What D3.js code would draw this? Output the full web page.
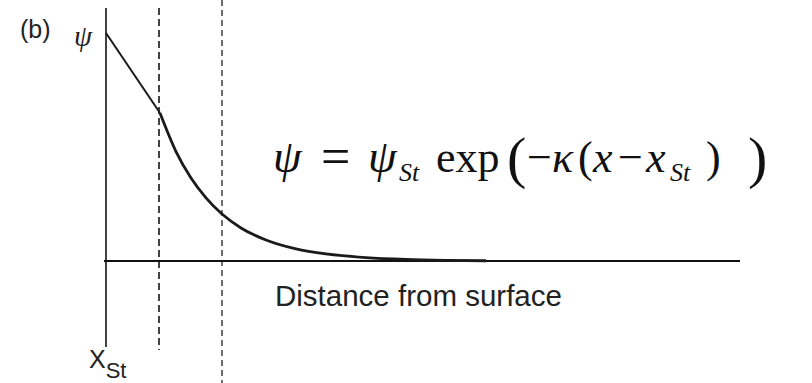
<!DOCTYPE html>
<html>
<head>
<meta charset="utf-8">
<script src="https://cdn.jsdelivr.net/npm/d3@7"></script>
<style>
  body { margin: 0; background: #fff; }
  svg { display: block; }
</style>
</head>
<body>
<script>
// values (x in arbitrary distance units, psi relative to psi at surface)
var linearX = [0, 0.54];
var linearPsi = [1.0, 0.649];
var decayX = [0.54, 0.7, 0.85, 1.0, 1.16, 1.35, 1.6, 1.9, 2.2, 2.6, 3.0, 3.4, 3.8];
var decayPsi = [0.649, 0.48, 0.364, 0.277, 0.206, 0.145, 0.092, 0.053, 0.031, 0.015, 0.007, 0.003, 0.001];
var markerX = [0.53, 1.16];
var xLabel = "Distance from surface";

var w = 812, h = 383;

var svg = d3.select("body").append("svg")
    .attr("width", w)
    .attr("height", h);

var xScale = d3.scaleLinear().domain([0, 6.34]).range([106, 740]);
var yScale = d3.scaleLinear().domain([0, 1]).range([261, 33]);

// dashed guides
svg.append("line")
    .attr("x1", xScale(markerX[0])).attr("x2", xScale(markerX[0]))
    .attr("y1", 8).attr("y2", 350)
    .attr("stroke", "#222").attr("stroke-width", 1.7)
    .attr("stroke-dasharray", "7,4");
svg.append("line")
    .attr("x1", xScale(markerX[1])).attr("x2", xScale(markerX[1]))
    .attr("y1", 0).attr("y2", h)
    .attr("stroke", "#707070").attr("stroke-width", 2)
    .attr("stroke-dasharray", "6,4");

// axes
svg.append("line")
    .attr("x1", xScale(0)).attr("x2", xScale(0))
    .attr("y1", 8).attr("y2", 347)
    .attr("stroke", "#111").attr("stroke-width", 1.6);
svg.append("line")
    .attr("x1", xScale(0) - 2).attr("x2", xScale(6.34))
    .attr("y1", yScale(0)).attr("y2", yScale(0))
    .attr("stroke", "#111").attr("stroke-width", 1.8);

// potential curve
var line = d3.line()
    .x(function(d) { return xScale(d[0]); })
    .y(function(d) { return yScale(d[1]); });

svg.append("path")
    .datum(d3.zip(linearX, linearPsi))
    .attr("d", line)
    .attr("fill", "none")
    .attr("stroke", "#1a1a1a")
    .attr("stroke-width", 2);

svg.append("path")
    .datum(d3.zip(decayX, decayPsi))
    .attr("d", line.curve(d3.curveMonotoneX))
    .attr("fill", "none")
    .attr("stroke", "#1a1a1a")
    .attr("stroke-width", 2.8);

// labels
svg.append("text")
    .attr("x", 20).attr("y", 38)
    .attr("font-family", "Liberation Sans, Arial, sans-serif")
    .attr("font-size", 25)
    .attr("fill", "#222")
    .text("(b)");

svg.append("text")
    .attr("x", 74).attr("y", 46)
    .attr("font-family", "Liberation Serif, Times New Roman, serif")
    .attr("font-style", "italic")
    .attr("font-size", 29)
    .attr("fill", "#222")
    .text("ψ");

var xst = svg.append("text")
    .attr("x", 89).attr("y", 368)
    .attr("font-family", "Liberation Sans, Arial, sans-serif")
    .attr("font-size", 25)
    .attr("fill", "#222");
xst.append("tspan").text("X");
xst.append("tspan").attr("font-size", 22).attr("dy", 10).text("St");

svg.append("text")
    .attr("x", 275).attr("y", 306)
    .attr("font-family", "Liberation Sans, Arial, sans-serif")
    .attr("font-size", 29.5)
    .attr("fill", "#222")
    .text(xLabel);

// equation, pieces placed as in the figure
var eqBase = 172;
var eqParts = [
    { t: "ψ", x: 273, it: true, fs: 46 },
    { t: "=", x: 321, fs: 52, dy: 2 },
    { t: "ψ", x: 368, it: true, fs: 46 },
    { t: "St", x: 399, it: true, fs: 26, dy: 9 },
    { t: "exp", x: 436, fs: 44 },
    { t: "(", x: 507, fs: 58, dy: 5 },
    { t: "−", x: 527, fs: 44 },
    { t: "κ", x: 552, it: true, fs: 44 },
    { t: "(", x: 578, fs: 44 },
    { t: "x", x: 593, it: true, fs: 44 },
    { t: "−", x: 618, fs: 44 },
    { t: "x", x: 646, it: true, fs: 44 },
    { t: "St", x: 670, it: true, fs: 26, dy: 9 },
    { t: ")", x: 706, fs: 44 },
    { t: ")", x: 748, fs: 58, dy: 5 }
];

svg.append("g")
    .selectAll("text")
    .data(eqParts)
    .enter()
    .append("text")
    .attr("x", function(d) { return d.x; })
    .attr("y", function(d) { return eqBase + (d.dy || 0); })
    .attr("font-family", "Liberation Serif, Times New Roman, serif")
    .attr("font-style", function(d) { return d.it ? "italic" : "normal"; })
    .attr("font-size", function(d) { return d.fs; })
    .attr("fill", "#111")
    .text(function(d) { return d.t; });
</script>
</body>
</html>
